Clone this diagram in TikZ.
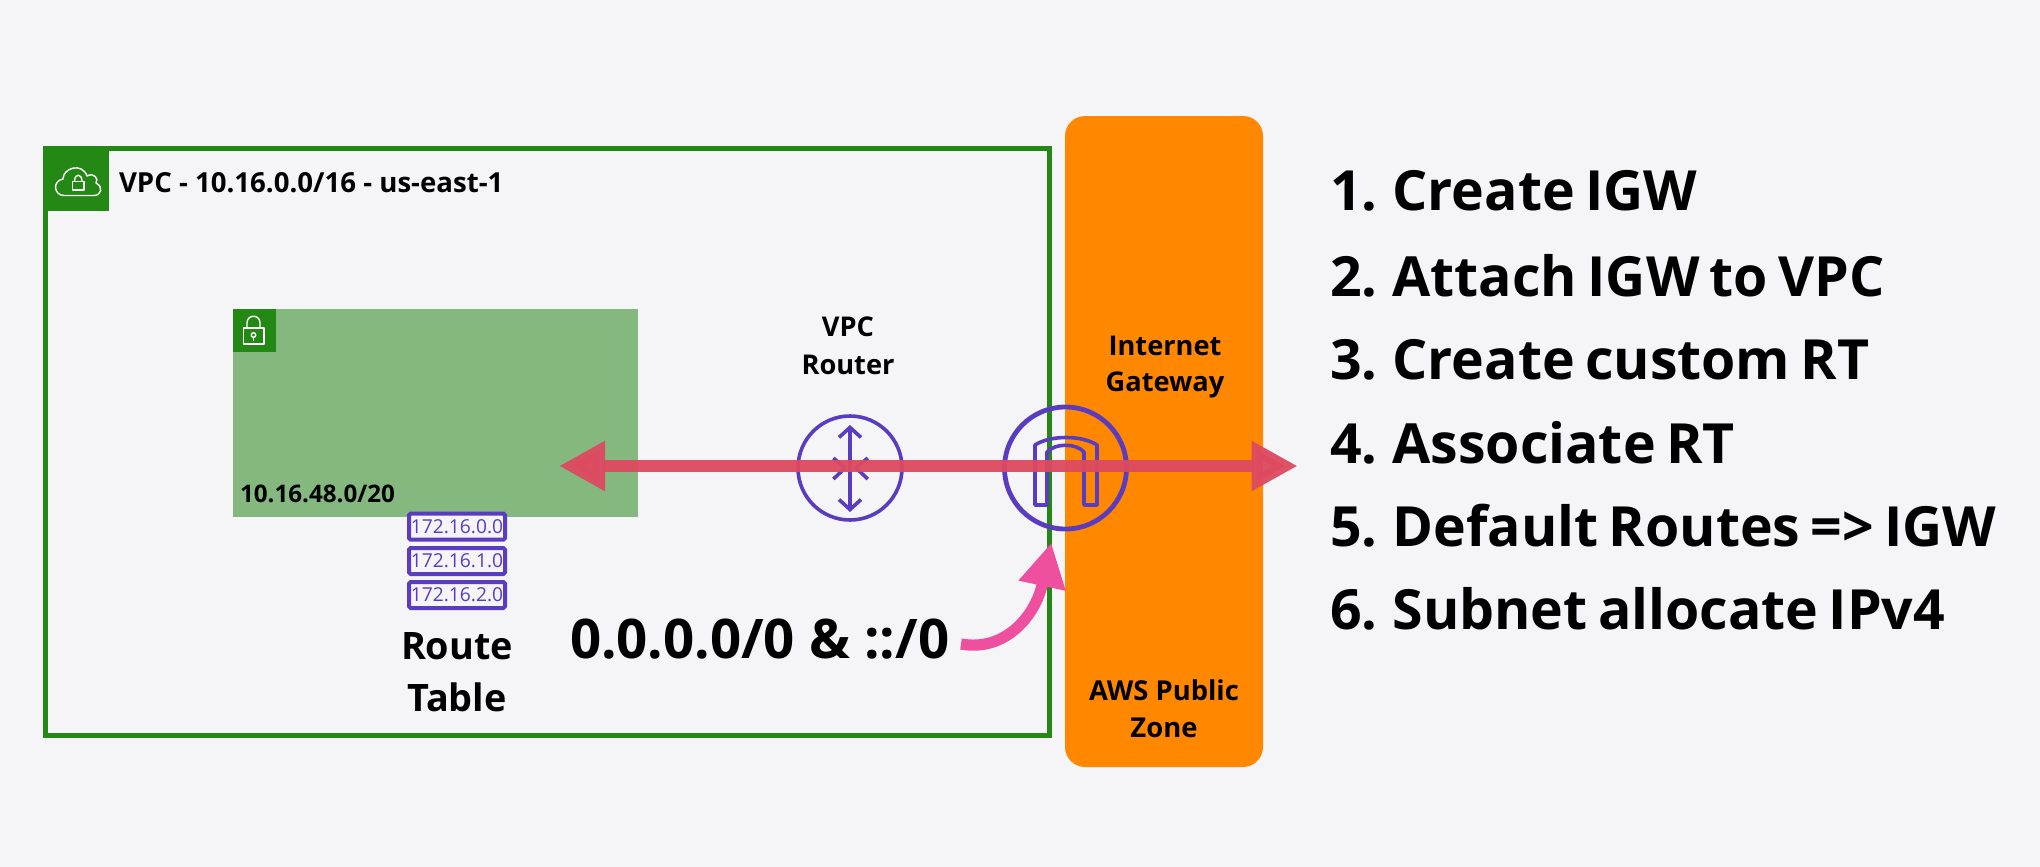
\documentclass[tikz,border=0pt]{standalone}
\usepackage{fontspec}
\setmainfont{Open Sans}
\newfontfamily\listfont[WordSpace=0.72]{Open Sans}
\usetikzlibrary{arrows.meta}
\definecolor{bgc}{HTML}{F5F5F8}
\definecolor{vpcg}{HTML}{248814}
\definecolor{subg}{HTML}{85B87E}
\definecolor{orng}{HTML}{FF8800}
\definecolor{purp}{HTML}{5A3CC0}
\definecolor{redc}{HTML}{DC4A60}
\definecolor{pinkc}{HTML}{EE4F9F}
\tikzset{
 x=0.5pt,y=-0.5pt,
 lbl/.style={inner sep=0pt,outer sep=0pt,text=black,font=\fontsize{#1}{#1}\selectfont\bfseries},
 lbl/.default=14,
 box/.style={inner sep=0pt,outer sep=0pt},
 rt/.style={box,draw=purp,line width=2pt,rounded corners=0.8pt,fill=bgc,minimum width=48pt,minimum height=13pt,text=purp,font=\fontsize{9.6}{9.6}\selectfont},
 ring/.style={box,circle,draw=purp},
 glyph/.style={draw=purp,line width=1.8pt,line join=round},
 ic/.style={draw=white,line width=0.7pt,line join=round},
 listitem/.style={inner sep=0pt,outer sep=0pt,anchor=base west,text=black,font=\listfont\fontsize{27.7}{27.7}\selectfont\bfseries},
}
\begin{document}
\begin{tikzpicture}
\useasboundingbox (0,0) rectangle (2040,867);
\fill[bgc] (0,0) rectangle (2040,867);
% VPC box
\node[box,draw=vpcg,line width=2.5pt,minimum width=502pt,minimum height=293.4pt] (vpc) at (547.4,441.6) {};
\node[box,fill=vpcg,minimum width=30.5pt,minimum height=30pt] (vpcicon) at (78.5,181) {};
\draw[ic] (64,195.5) .. controls (54,195.5) and (52,181) .. (63,179) .. controls (63,168) and (82,162) .. (87,176) .. controls (94,172) and (99,179) .. (96,183) .. controls (104,187) and (101,195.5) .. (94,195.5) -- cycle;
\draw[ic] (72.5,181.5) rectangle (84,190);
\draw[ic] (74.5,181.5) .. controls (74.5,173) and (82,173) .. (82,181.5);
\node[lbl=13.8,anchor=base west] (vpclabel) at (119,192) {VPC - 10.16.0.0/16 - us-east-1};
% subnet
\node[box,fill=subg,minimum width=202.5pt,minimum height=104pt] (subnet) at (435.2,413) {};
\node[box,fill=vpcg,minimum width=21.5pt,minimum height=21.5pt] (subicon) at (254,330.5) {};
\draw[ic] (243.5,328) rectangle (264,344);
\draw[ic] (247,328) -- (247,323) .. controls (247,314) and (260,314) .. (260,323) -- (260,328);
\draw[ic] (253.5,335) circle (2.3);
\draw[ic] (253.5,337.5) -- (253.5,341);
\node[lbl=12.1,anchor=base west] (sublabel) at (240,502) {10.16.48.0/20};
% route table
\node[rt] (rt0) at (457,526.7) {172.16.0.0};
\node[rt] (rt1) at (457,561) {172.16.1.0};
\node[rt] (rt2) at (457,595) {172.16.2.0};
\node[lbl=18.9,anchor=base] (route) at (457,659) {Route};
\node[lbl=18.9,anchor=base] (table) at (457,711) {Table};
% orange
\node[box,fill=orng,rounded corners=10pt,minimum width=99pt,minimum height=325.5pt] (public) at (1164,441.5) {};
\node[lbl=13.6,anchor=base] (igw1) at (1165,355) {Internet};
\node[lbl=13.6,anchor=base] (igw2) at (1165,391.7) {Gateway};
\node[lbl=13.7,anchor=base] (zone1) at (1164,700.7) {AWS Public};
\node[lbl=13.7,anchor=base] (zone2) at (1164,737.3) {Zone};
\node[lbl=13.6,anchor=base] (rtr1) at (848,336.7) {VPC};
\node[lbl=13.6,anchor=base] (rtr2) at (848,374) {Router};
% router icon
\node[ring,line width=1.8pt,minimum size=52pt] (router) at (850,468) {};
\draw[glyph,{Straight Barb[length=5pt,width=11pt]}-{Straight Barb[length=5pt,width=11pt]}] (850,425) -- (850,512);
\draw[glyph] (833.4,458) -- (845,468) -- (833.4,479);
\draw[glyph] (867.8,458) -- (856,468) -- (867.8,479);
% IGW icon
\node[ring,line width=2.4pt,minimum size=61pt] (igw) at (1065.5,468) {};
\draw[glyph] (1035,505) -- (1035,445) .. controls (1050,435) and (1082,435) .. (1097,445) -- (1097,505) -- (1084,505) -- (1084,452) .. controls (1076,443) and (1055,443) .. (1047,452) -- (1047,505) -- cycle;
% arrows
\coordinate (redL) at (559,466);
\coordinate (redR) at (1297.6,466);
\draw[redc,opacity=.95,line width=6pt,{Triangle[length=23pt,width=23.5pt]}-{Triangle[length=23pt,width=23.5pt]}] (redL) -- (redR);
\node[lbl=27.3,anchor=base west] (dflt) at (570,658) {0.0.0.0/0 \& ::/0};
\coordinate (pinkS) at (961,644);
\coordinate (pinkT) at (1051.3,542.7);
\draw[pinkc,line width=5.6pt,-{Triangle[length=22pt,width=22.5pt]}] (pinkS) .. controls (1005,652) and (1035.5,616) .. (pinkT);
% list
\node[listitem] (l1) at (1330,210) {1. Create IGW};
\node[listitem] (l2) at (1330,296) {2. Attach IGW to VPC};
\node[listitem] (l3) at (1330,379) {3. Create custom RT};
\node[listitem] (l4) at (1330,463) {4. Associate RT};
\node[listitem] (l5) at (1330,546) {5. Default Routes => IGW};
\node[listitem] (l6) at (1330,629) {6. Subnet allocate IPv4};
\end{tikzpicture}
\end{document}
